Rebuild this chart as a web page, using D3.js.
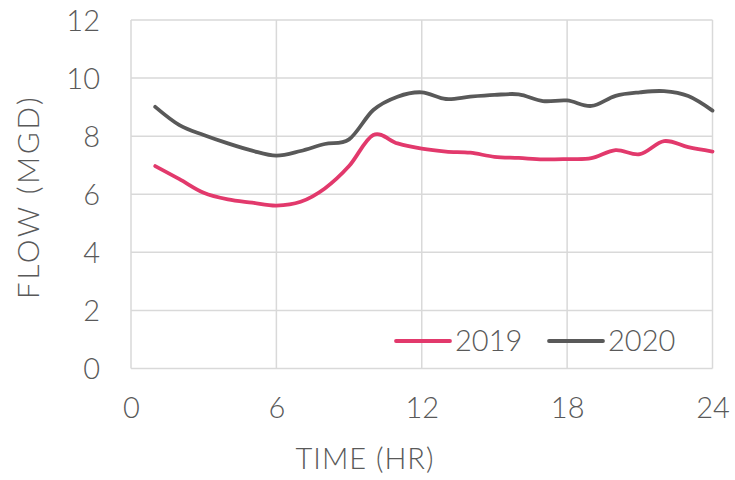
<!DOCTYPE html>
<html>
<head>
<meta charset="utf-8">
<script src="https://cdn.jsdelivr.net/npm/d3@7"></script>
<style>
  html, body { margin: 0; padding: 0; background: #fff; }
  svg text { font-family: "Lato", "Open Sans", sans-serif; font-weight: 300; fill: #595959; }
</style>
</head>
<body>
<svg id="chart" width="735" height="480"></svg>
<script>
// Hourly flow, hours 1..24
const hours = [1,2,3,4,5,6,7,8,9,10,11,12,13,14,15,16,17,18,19,20,21,22,23,24];
const flow2019 = [6.97,6.52,6.05,5.82,5.71,5.61,5.74,6.20,6.97,8.04,7.75,7.57,7.47,7.43,7.29,7.25,7.20,7.21,7.24,7.52,7.38,7.83,7.62,7.47];
const flow2020 = [9.01,8.38,8.04,7.75,7.50,7.33,7.49,7.73,7.89,8.90,9.36,9.51,9.28,9.36,9.42,9.44,9.21,9.23,9.04,9.39,9.51,9.55,9.38,8.88];
const seriesNames = ["2019", "2020"];
const seriesColors = ["#E2396C", "#595959"];
const xTicks = [0, 6, 12, 18, 24];
const yTicks = [0, 2, 4, 6, 8, 10, 12];

const svg = d3.select("#chart");
const plotLeft = 131, plotRight = 712.5, plotTop = 20, plotBottom = 368.5;

const x = d3.scaleLinear().domain([0, 24]).range([plotLeft, plotRight]);
const y = d3.scaleLinear().domain([0, 12]).range([plotBottom, plotTop]);

// grid
const grid = svg.append("g").attr("stroke", "#d9d9d9").attr("stroke-width", 1.5);
grid.selectAll("line.h").data(yTicks).join("line").attr("class", "h")
  .attr("x1", plotLeft).attr("x2", plotRight)
  .attr("y1", d => y(d)).attr("y2", d => y(d));
grid.selectAll("line.v").data(xTicks).join("line").attr("class", "v")
  .attr("y1", plotTop).attr("y2", plotBottom)
  .attr("x1", d => x(d)).attr("x2", d => x(d));

// axes (labels only)
const yAxis = svg.append("g").attr("transform", `translate(${plotLeft - 31},0)`)
  .call(d3.axisLeft(y).tickValues(yTicks).tickSize(0).tickPadding(0));
yAxis.select(".domain").remove();
yAxis.selectAll("text").attr("font-size", 29).attr("dy", "0.36em");

const xAxis = svg.append("g").attr("transform", `translate(0,${plotBottom + 29})`)
  .call(d3.axisBottom(x).tickValues(xTicks).tickSize(0).tickPadding(0));
xAxis.select(".domain").remove();
xAxis.selectAll("text").attr("font-size", 29).attr("dy", "0.72em");

// axis titles
svg.append("text").attr("x", 365).attr("y", 469).attr("text-anchor", "middle")
  .attr("font-size", 29).attr("letter-spacing", 1).text("TIME (HR)");
svg.append("text").attr("transform", "translate(39,197) rotate(-90)")
  .attr("text-anchor", "middle").attr("font-size", 30).attr("letter-spacing", 2.5).text("FLOW (MGD)");

// series lines
const line = d3.line().curve(d3.curveCatmullRom.alpha(0))
  .x((d, i) => x(hours[i])).y(d => y(d));
[flow2019, flow2020].forEach((vals, k) => {
  svg.append("path").datum(vals)
    .attr("fill", "none").attr("stroke", seriesColors[k])
    .attr("stroke-width", 3.8).attr("stroke-linecap", "round").attr("stroke-linejoin", "round")
    .attr("d", line);
});

// legend
const legendX = [396, 549];
seriesNames.forEach((name, k) => {
  const g = svg.append("g").attr("transform", `translate(${legendX[k]},341)`);
  g.append("line").attr("x1", 0).attr("x2", 54).attr("stroke", seriesColors[k])
    .attr("stroke-width", 3.8).attr("stroke-linecap", "round");
  g.append("text").attr("x", 59).attr("dy", "0.36em").attr("font-size", 29).text(name);
});
</script>
</body>
</html>
